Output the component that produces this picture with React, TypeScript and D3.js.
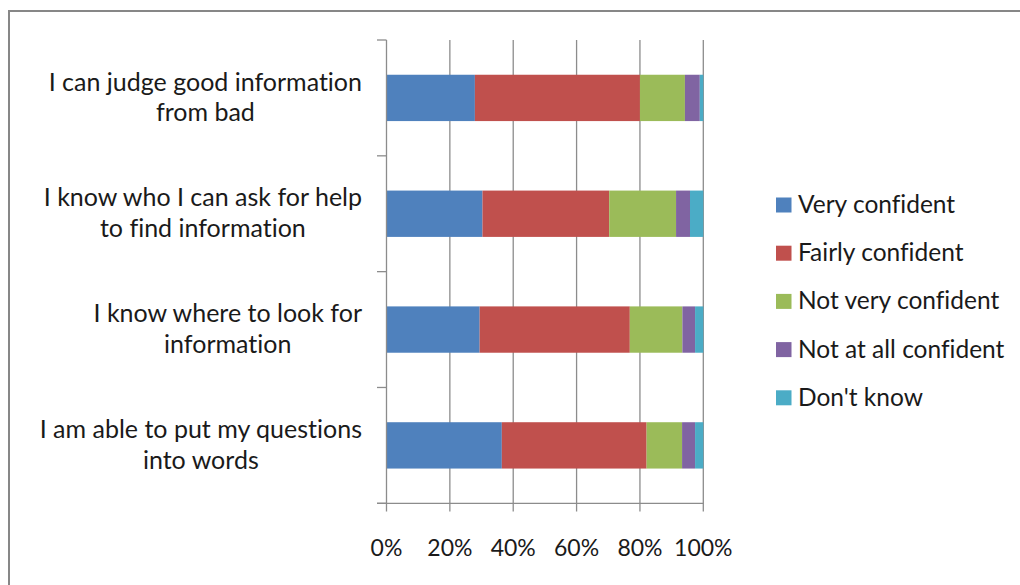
import React, { useEffect, useRef } from "react";
import * as d3 from "d3";

const categories = [
	"I can judge good information\nfrom bad",
	"I know who I can ask for help\nto find information",
	"I know where to look for\ninformation",
	"I am able to put my questions\ninto words",
];
const seriesNames = [
	"Very confident",
	"Fairly confident",
	"Not very confident",
	"Not at all confident",
	"Don't know",
];
const veryConfident = [27.9, 30.3, 29.4, 36.4];
const fairlyConfident = [52.1, 40.0, 47.4, 45.7];
const notVeryConfident = [14.2, 21.1, 16.6, 11.2];
const notAtAllConfident = [4.7, 4.4, 4.0, 4.1];
const dontKnow = [1.1, 4.2, 2.6, 2.6];
const xTicks = [0, 20, 40, 60, 80, 100];
const colors = ["#4F81BD", "#C0504D", "#9BBB59", "#8064A2", "#4BACC6"];

const FONT = "Lato, 'Open Sans', sans-serif";
const TEXT = "#1a1a1a";

const Chart: React.FC = () => {
	const ref = useRef<SVGSVGElement | null>(null);

	useEffect(() => {
		if (!ref.current) return;
		const svg = d3.select(ref.current);
		svg.selectAll("*").remove();

		const rows = categories.map((c, i) => ({
			cat: c,
			v: [veryConfident[i], fairlyConfident[i], notVeryConfident[i], notAtAllConfident[i], dontKnow[i]],
		}));

		const x = d3.scaleLinear().domain([0, 100]).range([386.5, 703.3]);
		const y = d3.scaleBand<string>().domain(categories).range([40, 503.3]).paddingInner(0.6).paddingOuter(0.3);
		const band = d3.scaleBand<string>().domain(categories).range([40, 503.3]);

		// outer frame
		svg.append("rect")
			.attr("x", 9).attr("y", 11).attr("width", 1030).attr("height", 600)
			.attr("fill", "white").attr("stroke", "#878787").attr("stroke-width", 2);

		const grid = "#8c8c8c";
		// vertical gridlines
		svg.append("g").selectAll("line").data(xTicks.slice(1)).join("line")
			.attr("x1", (d) => x(d)).attr("x2", (d) => x(d))
			.attr("y1", 40).attr("y2", 511.5)
			.attr("stroke", grid).attr("stroke-width", 1.3);

		// bars
		const stack = d3.stack<{ cat: string; v: number[] }, number>()
			.keys(d3.range(seriesNames.length))
			.value((d, k) => d.v[k]);
		const layers = stack(rows);
		svg.append("g").selectAll("g").data(layers).join("g")
			.attr("fill", (_, i) => colors[i])
			.selectAll("rect").data((d) => d).join("rect")
			.attr("x", (d) => x(d[0]))
			.attr("width", (d) => x(d[1]) - x(d[0]))
			.attr("y", (d) => y(d.data.cat)!)
			.attr("height", y.bandwidth());

		// y axis
		svg.append("line").attr("x1", 386.5).attr("x2", 386.5).attr("y1", 40).attr("y2", 511.5)
			.attr("stroke", grid).attr("stroke-width", 1.3);
		const bounds = categories.map((c) => band(c)!).concat([503.3]);
		svg.append("g").selectAll("line").data(bounds).join("line")
			.attr("x1", 377).attr("x2", 386.5)
			.attr("y1", (d) => d).attr("y2", (d) => d)
			.attr("stroke", grid).attr("stroke-width", 1.3);
		// x axis
		svg.append("line").attr("x1", 377).attr("x2", 703.3).attr("y1", 503.3).attr("y2", 503.3)
			.attr("stroke", grid).attr("stroke-width", 1.3);

		// x tick labels
		svg.append("g").selectAll("text").data(xTicks).join("text")
			.attr("x", (d) => x(d)).attr("y", 556)
			.attr("text-anchor", "middle")
			.attr("font-family", FONT).attr("font-size", 23).attr("fill", TEXT)
			.text((d) => `${d}%`);

		// category labels
		const lh = 30.7;
		categories.forEach((c) => {
			const lines = c.split("\n");
			const cy = band(c)! + band.bandwidth() / 2;
			const g = svg.append("g");
			const texts = lines.map((ln, i) =>
				g.append("text")
					.attr("y", cy + (i - (lines.length - 1) / 2) * lh + 8)
					.attr("text-anchor", "middle")
					.attr("font-family", FONT).attr("font-size", 25).attr("fill", TEXT)
					.style("font-variant-ligatures", "none")
					.text(ln)
			);
			const maxW = d3.max(texts, (t) => (t.node() as SVGTextElement).getComputedTextLength()) || 0;
			texts.forEach((t) => t.attr("x", 362 - maxW / 2));
		});

		// legend
		const lg = svg.append("g");
		seriesNames.forEach((s, i) => {
			const cy = 205 + i * 48.2;
			lg.append("rect").attr("x", 776).attr("y", cy - 7.5).attr("width", 15.5).attr("height", 15)
				.attr("fill", colors[i]);
			lg.append("text").attr("x", 798).attr("y", cy + 8)
				.attr("font-family", FONT).attr("font-size", 24.5).attr("fill", TEXT)
				.style("font-variant-ligatures", "none")
				.text(s);
		});
	}, []);

	return (
		<svg
			ref={ref}
			width={1020}
			height={585}
			style={{ position: "absolute", left: 0, top: 0, background: "white" }}
		/>
	);
};

export default function App() {
	return <Chart />;
}
